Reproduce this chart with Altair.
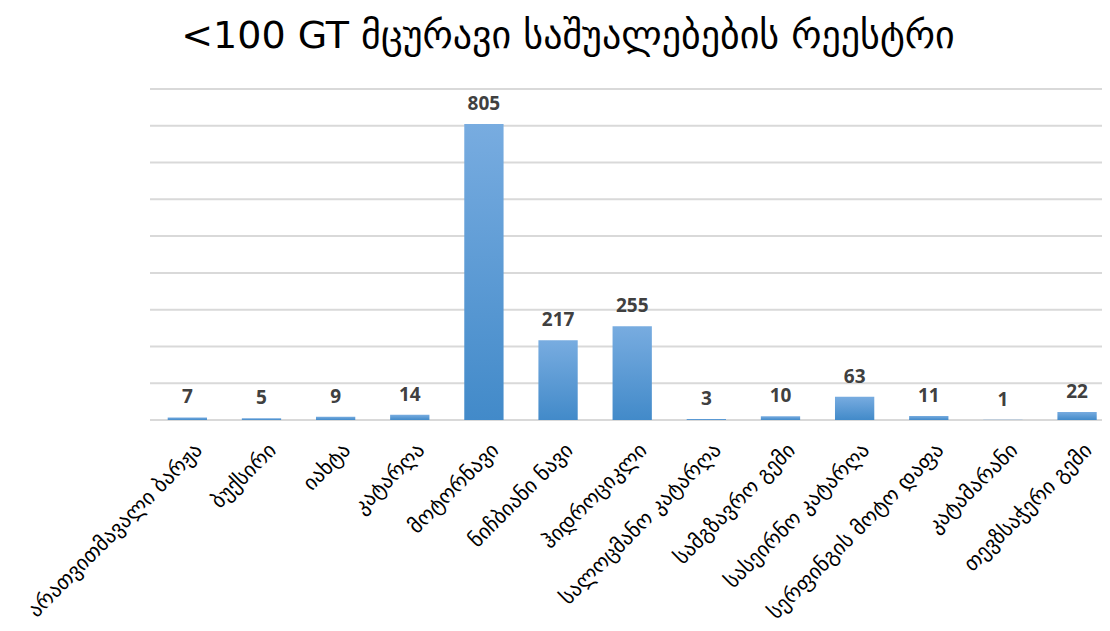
import altair as alt
import pandas as pd

categories = [
    "არათვითმავალი ბარჟა",
    "ბუქსირი",
    "იახტა",
    "კატარღა",
    "მოტორნავი",
    "ნიჩბიანი ნავი",
    "ჰიდროციკლი",
    "სალოცმანო კატარღა",
    "სამგზავრო გემი",
    "სასეირნო კატარღა",
    "სერფინგის მოტო დაფა",
    "კატამარანი",
    "თევზსაჭერი გემი",
]
values = [7, 5, 9, 14, 805, 217, 255, 3, 10, 63, 11, 1, 22]
grid_values = [0, 100, 200, 300, 400, 500, 600, 700, 800, 900]
title_text = "<100 GT მცურავი საშუალებების რეესტრი"

df = pd.DataFrame({"category": categories, "value": values})
grid_df = pd.DataFrame({"g": grid_values})

y_scale = alt.Scale(domain=[0, 900], nice=False)

x_enc = alt.X(
    "category:N",
    sort=categories,
    title=None,
    scale=alt.Scale(paddingInner=0.47, paddingOuter=0.155, align=0.77),
    axis=alt.Axis(
        labelAngle=-45,
        labelAlign="right",
        labelBaseline="top",
        labelFont="DejaVu Sans",
        labelFontSize=21,
        labelColor="#000000",
        labelPadding=19,
        labelOffset=4,
        labelLimit=400,
        ticks=False,
        domain=False,
        grid=False,
    ),
)

grid = alt.Chart(grid_df).mark_rule(color="#d9d9d9", strokeWidth=2).encode(
    y=alt.Y("g:Q", scale=y_scale, axis=None)
)

bars = alt.Chart(df).mark_bar(
    color=alt.Gradient(
        gradient="linear",
        stops=[
            alt.GradientStop(color="#78ace0", offset=0),
            alt.GradientStop(color="#428ac9", offset=1),
        ],
        x1=0, x2=0, y1=0, y2=1,
    )
).encode(x=x_enc, y=alt.Y("value:Q", title=None, scale=y_scale, axis=None))

labels = alt.Chart(df).mark_text(
    baseline="bottom",
    dy=-10,
    font="Open Sans",
    fontWeight="bold",
    fontSize=19,
    color="#404040",
).encode(
    x=alt.X("category:N", sort=categories),
    y=alt.Y("value:Q", scale=y_scale, axis=None),
    text="value:Q",
)

chart = (
    alt.layer(grid, bars, labels)
    .properties(
        width=952,
        height=331,
        background="white",
        autosize=alt.AutoSizeParams(type="none"),
        padding={"left": 142, "top": 81, "right": 0, "bottom": 204},
        title=alt.TitleParams(
            title_text,
            font="DejaVu Sans",
            fontSize=38,
            fontWeight="normal",
            color="#000000",
            anchor="middle",
            offset=32,
            dx=-58,
        ),
    )
    .configure_view(strokeWidth=0, stroke="transparent")
)

chart.save("out.html", embed_options={"renderer": "svg", "actions": False})
